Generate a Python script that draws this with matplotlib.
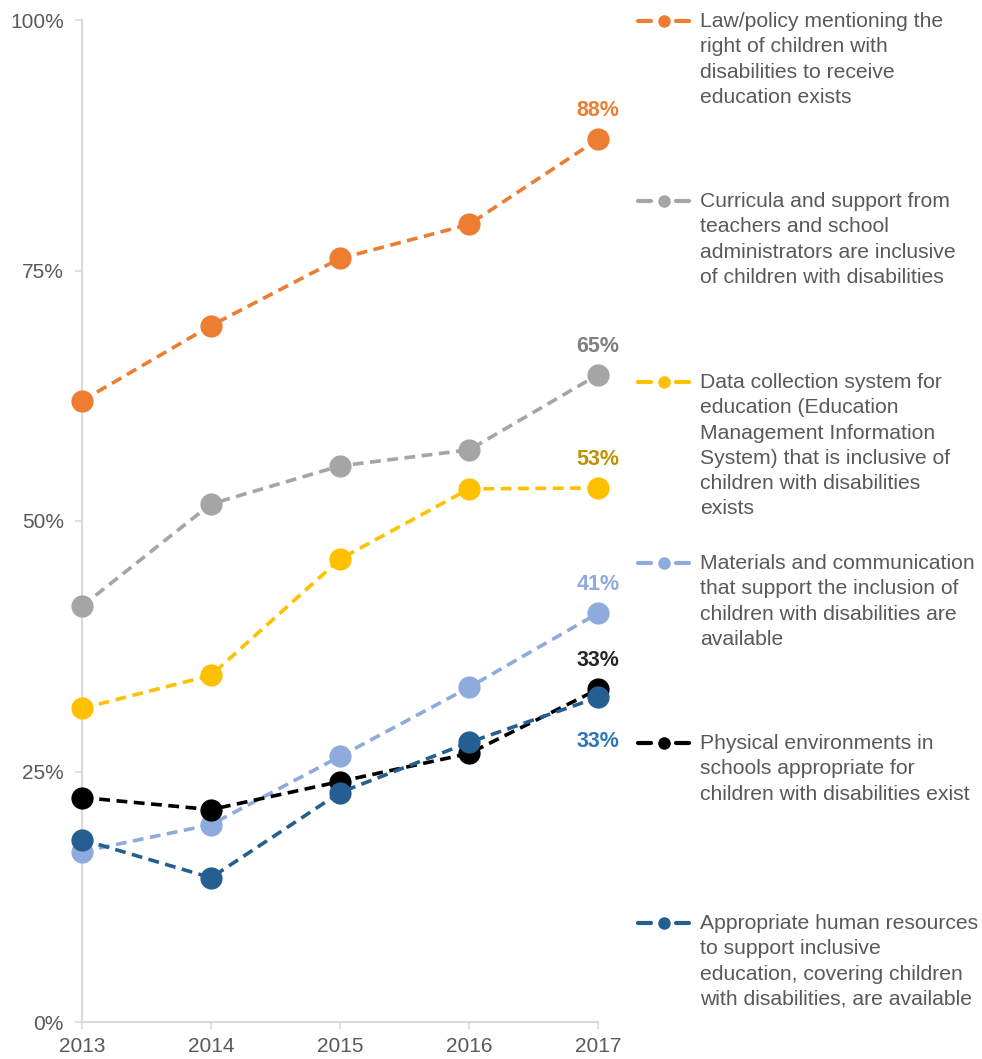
import numpy as np
import matplotlib
matplotlib.use("Agg")
import matplotlib.pyplot as plt
from matplotlib.lines import Line2D

plt.rcParams['font.family'] = ['Liberation Sans', 'DejaVu Sans']

years = [2013, 2014, 2015, 2016, 2017]
law_policy = [62.0, 69.5, 76.2, 79.6, 88.1]
curricula = [41.5, 51.7, 55.5, 57.1, 64.6]
data_system = [31.3, 34.6, 46.2, 53.2, 53.3]
materials = [17.0, 19.7, 26.5, 33.4, 40.8]
physical = [22.4, 21.2, 24.0, 26.8, 33.2]
human_res = [18.2, 14.4, 22.9, 27.9, 32.4]

labels = [
    "Law/policy mentioning the\nright of children with\ndisabilities to receive\neducation exists",
    "Curricula and support from\nteachers and school\nadministrators are inclusive\nof children with disabilities",
    "Data collection system for\neducation (Education\nManagement Information\nSystem) that is inclusive of\nchildren with disabilities\nexists",
    "Materials and communication\nthat support the inclusion of\nchildren with disabilities are\navailable",
    "Physical environments in\nschools appropriate for\nchildren with disabilities exist",
    "Appropriate human resources\nto support inclusive\neducation, covering children\nwith disabilities, are available",
]
end_labels = ["88%", "65%", "53%", "41%", "33%", "33%"]

series = [law_policy, curricula, data_system, materials, physical, human_res]
colors = ["#ED7D31", "#A5A5A5", "#FFC000", "#8FAADC", "#000000", "#255E91"]
label_colors = ["#ED7D31", "#7F7F7F", "#BF9000", "#8FAADC", "#262626", "#2E75B6"]

W, H = 982, 1059
fig = plt.figure(figsize=(W / 100, H / 100), dpi=100)
ax = fig.add_axes([82 / W, 1 - 1022 / H, (598 - 82) / W, (1022 - 20) / H])

draw_order = [1, 2, 3, 0, 4, 5]
for i in draw_order:
    ax.plot(years, series[i], color=colors[i], lw=2.6, linestyle=(0, (3.0, 1.8)),
            marker="o", markersize=16, markeredgewidth=0, zorder=3 + i, clip_on=False)

# end-of-line value labels
for i, vals in enumerate(series):
    if i == 5:
        ax.annotate(end_labels[i], (years[-1], vals[-1]), xytext=(0, -24),
                    textcoords="offset points", ha="center", va="top",
                    fontsize=15.5, fontweight="bold", color=label_colors[i])
    else:
        ax.annotate(end_labels[i], (years[-1], vals[-1]), xytext=(0, 13),
                    textcoords="offset points", ha="center", va="bottom",
                    fontsize=15.5, fontweight="bold", color=label_colors[i])

ax.set_xlim(2013, 2017)
ax.set_ylim(0, 100)
ax.set_xticks(years)
ax.set_yticks([0, 25, 50, 75, 100])
ax.set_yticklabels(["0%", "25%", "50%", "75%", "100%"])
for s in ["top", "right"]:
    ax.spines[s].set_visible(False)
for s in ["left", "bottom"]:
    ax.spines[s].set_color("#D9D9D9")
    ax.spines[s].set_linewidth(1.5)
ax.tick_params(axis="both", colors="#D9D9D9", labelcolor="#595959",
               labelsize=15, length=5, width=1.2)
ax.tick_params(axis="x", pad=6)
ax.tick_params(axis="y", pad=8)

# legend drawn by hand on the right
entry_tops = [21, 201, 382, 563, 743, 923]
for i, top in enumerate(entry_tops):
    yf = 1 - top / H
    for x0, x1 in [(638, 651), (676, 689)]:
        fig.add_artist(Line2D([x0 / W, x1 / W], [yf, yf], transform=fig.transFigure,
                              color=colors[i], lw=3, solid_capstyle="round"))
    fig.add_artist(Line2D([663.5 / W], [yf], transform=fig.transFigure,
                          color=colors[i], marker="o", markersize=9, markeredgewidth=0))
    fig.text(700 / W, 1 - (top - 9) / H, labels[i], ha="left", va="top",
             fontsize=15.2, color="#595959", linespacing=1.42)

fig.savefig("out.png", dpi=100)
